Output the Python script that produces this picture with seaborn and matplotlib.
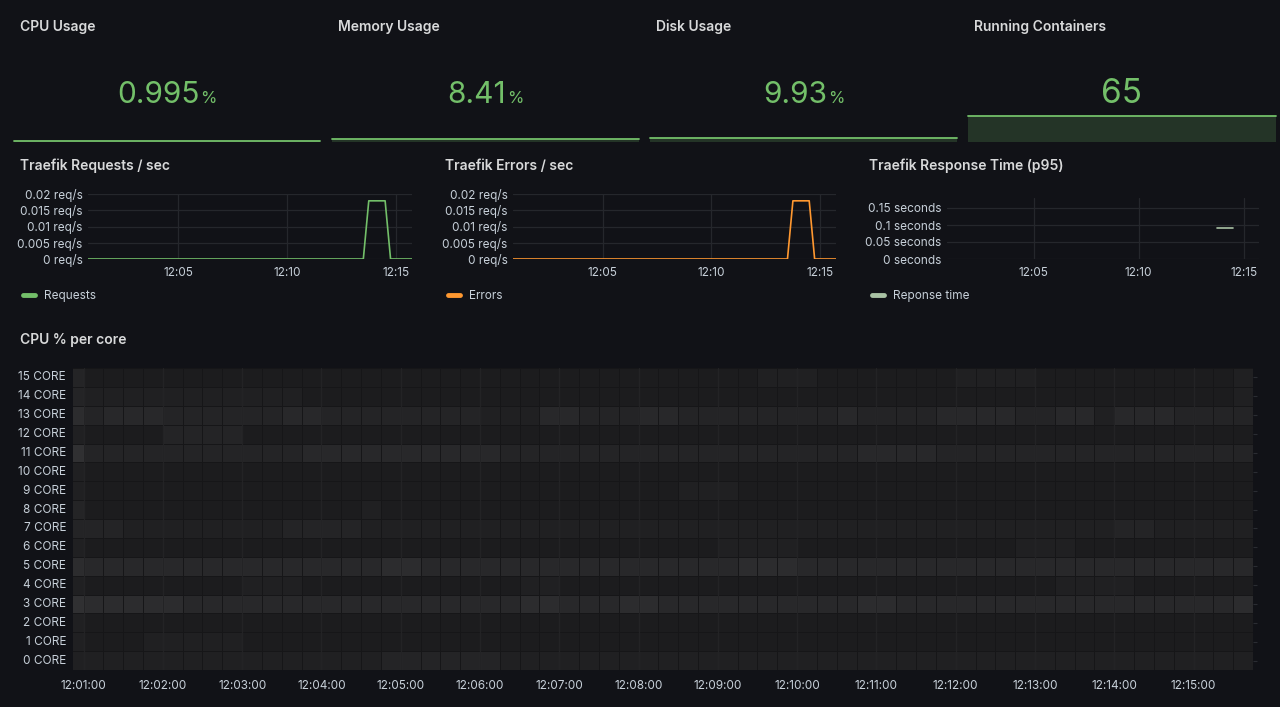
import matplotlib
matplotlib.use("Agg")
import matplotlib.pyplot as plt
import matplotlib.dates as mdates
from matplotlib.colors import LinearSegmentedColormap
from matplotlib.lines import Line2D
import numpy as np
import pandas as pd
import seaborn as sns

# --- stat panels ---
stat_titles = ["CPU Usage", "Memory Usage", "Disk Usage", "Running Containers"]
stat_values = ["0.995", "8.41", "9.93", "65"]
stat_units = ["%", "%", "%", ""]
stat_raw = [0.995, 8.41, 9.93, 65]
stat_max = [100, 100, 100, 75]

# --- traefik panels ---
range_start = "12:00:52"
range_end = "12:15:44"
req_times = ["12:00:52", "12:13:30", "12:13:45", "12:14:30", "12:14:45", "12:15:44"]
req_values = [0, 0, 0.0179, 0.0179, 0, 0]
err_times = ["12:00:52", "12:13:30", "12:13:45", "12:14:30", "12:14:45", "12:15:44"]
err_values = [0, 0, 0.0179, 0.0179, 0, 0]
resp_times = ["12:13:45", "12:14:30"]
resp_values = [0.092, 0.092]

req_ticks = [0, 0.005, 0.01, 0.015, 0.02]
req_ticklabels = ["0 req/s", "0.005 req/s", "0.01 req/s", "0.015 req/s", "0.02 req/s"]
resp_ticks = [0, 0.05, 0.1, 0.15]
resp_ticklabels = ["0 seconds", "0.05 seconds", "0.1 seconds", "0.15 seconds"]
ts_xticks = ["12:05", "12:10", "12:15"]

# --- cpu per core heatmap (levels, top row = 15 CORE) ---
core_names = ["%d CORE" % i for i in range(15, -1, -1)]
heat_first = "12:00:52"
heat_grid = "12:01:00"
heat_step = 15  # seconds
core_levels = [
    "4222222222" "2222222222" "2222222222" "2222233322" "2222233332" "2222222223",  # 15
    "4333333333" "3322222222" "2222222222" "2222222222" "2222222222" "2222222223",  # 14
    "6455544444" "4554444444" "4333554445" "5444444445" "4444555544" "5535554444",  # 13
    "3222244442" "2222222222" "2222222222" "2222222222" "2222222222" "2222222222",  # 12
    "7444444444" "4455555555" "5544444444" "4444444444" "5555444444" "4444444444",  # 11
    "3222222222" "2222222222" "2222222222" "2222222222" "2222222222" "2222222222",  # 10
    "3222222222" "2222222222" "2222222222" "2333222222" "2222222222" "2222222222",  # 9
    "4222222222" "2222232222" "2222222222" "2222222222" "2222222222" "2222222222",  # 8
    "4443333333" "3444433333" "3333333333" "3333333333" "3333333333" "3334433333",  # 7
    "3222222222" "2222222222" "2222222222" "2223333222" "2222222233" "3222222222",  # 6
    "6555555555" "5555556655" "5555555555" "5555666555" "5555555555" "5555555555",  # 5
    "3222222223" "3322222222" "2223322222" "2222222222" "2222222222" "3333222222",  # 4
    "7666665555" "5555555555" "5556655566" "5555555555" "6655555555" "5555555556",  # 3
    "3222222222" "2222222222" "2222222222" "2222222222" "2222222222" "2222222222",  # 2
    "3222333332" "2222222222" "2222222222" "2222222222" "2222222222" "2222222222",  # 1
    "3333333333" "3333334444" "4433333333" "3333333333" "3333333333" "3333333333",  # 0
]

BG = "#111217"
TITLE = "#d8d9da"
TICK = "#c7d0d9"
GRID = "#25272c"
GREEN = "#73bf69"
ORANGE = "#ff9830"
W, H = 1280, 707

sns.set_theme(style="dark")
plt.rcParams["font.family"] = ["Inter", "DejaVu Sans"]

fig = plt.figure(figsize=(W / 100, H / 100), dpi=100, facecolor=BG)


def box(x0, y0, x1, y1):
    return [x0 / W, 1 - y1 / H, (x1 - x0) / W, (y1 - y0) / H]


def ftext(x, y, s, **kw):
    return fig.text(x / W, 1 - y / H, s, **kw)


def tod(t):
    return pd.to_datetime("2024-01-01 " + t)


# ---------- stat panels ----------
stat_left = [14, 332, 650, 968]
stat_right = [320, 639, 957, 1276]
renderer = fig.canvas.get_renderer()
for i in range(4):
    ftext(stat_left[i] + 6, 31, stat_titles[i], color=TITLE, fontsize=10,
          fontweight="semibold", va="baseline", ha="left")
    cx = (stat_left[i] + stat_right[i]) / 2
    size = 24 if stat_units[i] == "" else 21.5
    num = ftext(cx, 103, stat_values[i], color=GREEN, fontsize=size,
                va="baseline", ha="left")
    unit = ftext(cx, 103, stat_units[i], color=GREEN, fontsize=12,
                 va="baseline", ha="left")
    wn = num.get_window_extent(renderer).width
    wu = unit.get_window_extent(renderer).width if stat_units[i] else 0
    start = cx - (wn + wu + 1) / 2
    num.set_x(start / W)
    unit.set_x((start + wn + 1) / W)

    sp = fig.add_axes(box(stat_left[i], 112, stat_right[i], 141))
    sp.set_facecolor(BG)
    xs = [0, 1]
    ys = [stat_raw[i], stat_raw[i]]
    sns.lineplot(x=xs, y=ys, ax=sp, color=GREEN, linewidth=1.3, clip_on=False)
    sp.fill_between(xs, ys, -2, color=GREEN, alpha=0.2, linewidth=0, clip_on=False)
    sp.set_xlim(0, 1)
    sp.set_ylim(0, stat_max[i])
    sp.axis("off")


# ---------- time series panels ----------
def ts_panel(rect, times, values, color, ticks, ticklabels, ymax, title, tx, legend):
    ax = fig.add_axes(box(*rect))
    ax.set_facecolor(BG)
    df = pd.DataFrame({"t": [tod(t) for t in times], "v": values})
    sns.lineplot(data=df, x="t", y="v", ax=ax, color=color, linewidth=1.2)
    ax.set_xlim(tod(range_start), tod(range_end))
    ax.set_ylim(0, ymax)
    ax.set_yticks(ticks)
    ax.set_yticklabels(ticklabels)
    ax.set_xticks([tod(t) for t in ts_xticks])
    ax.xaxis.set_major_formatter(mdates.DateFormatter("%H:%M"))
    ax.set_xlabel("")
    ax.set_ylabel("")
    ax.grid(True, color=GRID, linewidth=0.9)
    ax.tick_params(colors=TICK, labelsize=8.5, length=0, pad=4)
    ax.tick_params(axis="x", pad=6)
    for s in ax.spines.values():
        s.set_visible(False)
    ftext(tx, 170, title, color=TITLE, fontsize=10, fontweight="semibold",
          va="baseline", ha="left")
    fig.add_artist(Line2D([(tx + 3) / W, (tx + 15) / W], [1 - 295 / H, 1 - 295 / H],
                          transform=fig.transFigure, color=color, linewidth=3.5,
                          solid_capstyle="round"))
    ftext(tx + 24, 299, legend, color=TICK, fontsize=8.5, va="baseline", ha="left")
    return ax


ts_panel((88, 194, 412, 259), req_times, req_values, GREEN, req_ticks,
         req_ticklabels, 0.02, "Traefik Requests / sec", 20, "Requests")
ts_panel((513, 194, 836, 259), err_times, err_values, ORANGE, req_ticks,
         req_ticklabels, 0.02, "Traefik Errors / sec", 445, "Errors")
ts_panel((947, 197.8, 1259, 259), resp_times, resp_values, "#a9c2a4", resp_ticks,
         resp_ticklabels, 0.18, "Traefik Response Time (p95)", 869, "Reponse time")

# ---------- heatmap ----------
levels = np.array([[int(c) for c in row] for row in core_levels], dtype=float)
hm = fig.add_axes(box(73, 368, 1253, 670))
hm.set_facecolor(BG)
cmap = LinearSegmentedColormap.from_list("grafana_gray", ["#141416", "#38383a"])
sns.heatmap(levels, ax=hm, cmap=cmap, vmin=0, vmax=9, cbar=False,
            linewidths=0.4, linecolor="#161618",
            xticklabels=False, yticklabels=core_names)

grid0 = tod(heat_grid)
first_off = (grid0 - tod(heat_first)).total_seconds() / heat_step
hm.set_xlim(1 - first_off, levels.shape[1])
minute_times = pd.date_range(grid0, periods=15, freq="1min")
minute_pos = [1 + (m - grid0).total_seconds() / heat_step for m in minute_times]
hm.set_xticks(minute_pos)
hm.set_xticklabels([m.strftime("%H:%M:%S") for m in minute_times], rotation=0)
for p in minute_pos:
    hm.axvline(p, color="#ffffff", alpha=0.06, linewidth=0.9)
hm.set_yticklabels(core_names, rotation=0)
hm.tick_params(axis="y", colors=TICK, labelsize=8.5, length=3, width=0.8,
               pad=2, right=True, color="#2a2c32")
hm.tick_params(axis="x", colors=TICK, labelsize=8.5, length=0, pad=7)
for lbl in hm.get_yticklabels():
    lbl.set_color(TICK)
ftext(20, 344, "CPU % per core", color=TITLE, fontsize=10, fontweight="semibold",
      va="baseline", ha="left")

fig.savefig("out.png", dpi=100, facecolor=BG)
